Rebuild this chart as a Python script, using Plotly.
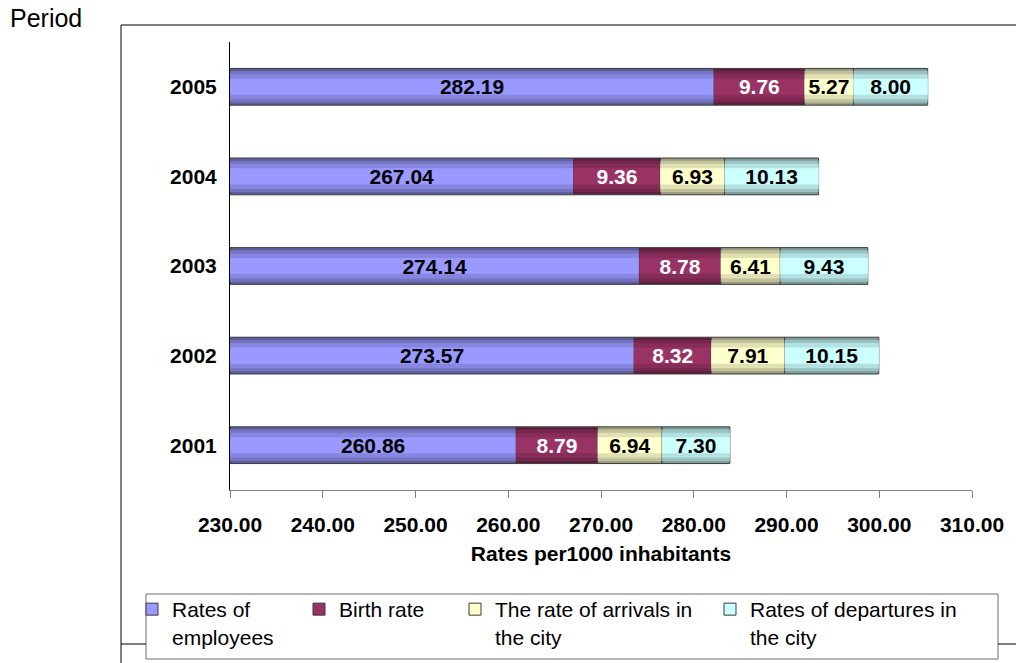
import plotly.graph_objects as go

years = ["2001", "2002", "2003", "2004", "2005"]
employees = [260.86, 273.57, 274.14, 267.04, 282.19]
birth_rate = [8.79, 8.32, 8.78, 9.36, 9.76]
arrivals = [6.94, 7.91, 6.41, 6.93, 5.27]
departures = [7.30, 10.15, 9.43, 10.13, 8.00]

series_names = ["Rates of<br>employees", "Birth rate",
                "The rate of arrivals in<br>the city", "Rates of departures in<br>the city"]
series_vals = [employees, birth_rate, arrivals, departures]
series_colors = ["#9999FF", "#993366", "#FFFFCC", "#CCFFFF"]
text_colors = ["black", "white", "black", "black"]

x_tickvals = [230, 240, 250, 260, 270, 280, 290, 300, 310]
axis_start = 230.0

W, H = 1016, 663
L, R, T, B = 230, 972, 42, 490
FONT = "Liberation Sans, Arial, sans-serif"


def px(x):
    return (x - L) / (R - L)


def py(y):
    return (B - y) / (B - T)


def shade(hexc, f):
    hexc = hexc.lstrip("#")
    r, g, b = (int(hexc[i:i + 2], 16) for i in (0, 2, 4))
    return "rgb(%d,%d,%d)" % (int(r * f), int(g * f), int(b * f))


# stacked bases: first series starts at the axis start, others stack on cumulative totals
bases = []
run = [0.0] * len(years)
for vals in series_vals:
    bases.append(list(run))
    run = [a + b for a, b in zip(run, vals)]
bases[0] = [axis_start] * len(years)
lengths = [[v - axis_start for v in employees]] + series_vals[1:]

layers = [(0.41, 0.62), (0.35, 0.76), (0.28, 0.88), (0.18, 1.0)]
legend_ids = ["legend", "legend2", "legend3", "legend4"]

fig = go.Figure()
for si, (name, vals, col, tcol) in enumerate(zip(series_names, series_vals, series_colors, text_colors)):
    base = bases[si]
    xv = lengths[si]
    for li, (wd, f) in enumerate(layers):
        fig.add_trace(go.Bar(
            y=years, x=xv, base=base, orientation="h", width=wd,
            marker=dict(color=shade(col, f),
                        line=dict(color="#3a3a3a", width=1 if li == 0 else 0)),
            name=name, legend=legend_ids[si],
            showlegend=False, hoverinfo="skip",
        ))
    fig.add_trace(go.Bar(
        y=years, x=xv, base=base, orientation="h", width=0.41,
        marker=dict(color="rgba(0,0,0,0)", line=dict(width=0)),
        text=["%.2f" % v for v in vals], textposition="inside",
        insidetextanchor="middle", constraintext="none",
        textfont=dict(family=FONT, size=21, color=tcol, weight="bold"),
        showlegend=False, hoverinfo="skip",
    ))
    fig.add_trace(go.Bar(
        y=[None], x=[None], orientation="h", name=name,
        marker=dict(color=col, line=dict(color="#3a3a3a", width=1)),
        legend=legend_ids[si], showlegend=True,
    ))

legend_text_x = [174, 341, 497, 752]
leg_common = dict(bgcolor="rgba(0,0,0,0)", borderwidth=0, xref="container", yref="container",
                  xanchor="left", yanchor="top", valign="top",
                  font=dict(family=FONT, size=21, color="black"), itemwidth=30)
legend_layout = {}
for lid, tx in zip(legend_ids, legend_text_x):
    legend_layout[lid] = dict(x=(tx - 42) / W, y=1 - 589 / H, **leg_common)

shapes = [
    dict(type="line", xref="paper", yref="paper", x0=px(121), x1=px(1020), y0=py(25), y1=py(25),
         line=dict(color="black", width=1)),
    dict(type="line", xref="paper", yref="paper", x0=px(121), x1=px(121), y0=py(25), y1=py(670),
         line=dict(color="black", width=1)),
    dict(type="line", xref="paper", yref="paper", x0=px(121), x1=px(146), y0=py(644), y1=py(644),
         line=dict(color="black", width=1)),
    dict(type="line", xref="paper", yref="paper", x0=px(998), x1=px(1020), y0=py(644), y1=py(644),
         line=dict(color="black", width=1)),
    dict(type="rect", xref="paper", yref="paper", x0=px(146), x1=px(998), y0=py(594), y1=py(659),
         line=dict(color="#6e6e6e", width=1), fillcolor="white", layer="below"),
]

fig.update_layout(
    width=W, height=H,
    margin=dict(l=L, r=W - R, t=T, b=H - B, pad=0, autoexpand=False),
    paper_bgcolor="white", plot_bgcolor="white",
    barmode="overlay",
    font=dict(family=FONT, size=20, color="black"),
    shapes=shapes,
    annotations=[dict(text="Period", xref="paper", yref="paper", x=px(8), y=py(2),
                      xanchor="left", yanchor="top", showarrow=False,
                      font=dict(family=FONT, size=25, color="black"))],
    **legend_layout,
)

fig.update_xaxes(
    range=[230, 310], tickvals=x_tickvals, tickformat=".2f",
    ticks="outside", ticklen=7, tickcolor="#808080", tickwidth=1,
    showline=True, linecolor="#808080", linewidth=1, showgrid=False, zeroline=False,
    tickfont=dict(family=FONT, size=21, color="black", weight="bold"),
    ticklabelstandoff=9,
    title=dict(text="Rates per1000 inhabitants", standoff=11,
               font=dict(family=FONT, size=21, color="black", weight="bold")),
)
fig.update_yaxes(
    type="category", categoryorder="array", categoryarray=years, range=[-0.5, 4.5],
    showline=True, linecolor="black", linewidth=1, ticks="", showgrid=False, zeroline=False,
    tickfont=dict(family=FONT, size=21, color="black", weight="bold"),
    ticklabelstandoff=8,
)

fig.write_html("out.html")
